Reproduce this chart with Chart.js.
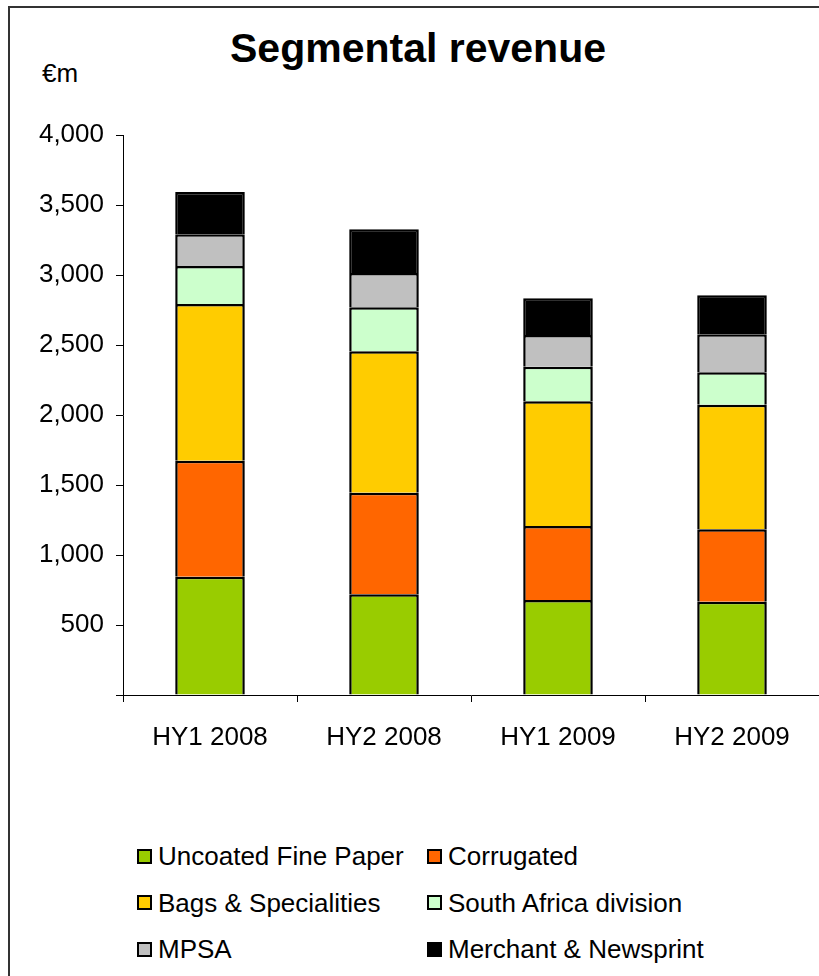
<!DOCTYPE html>
<html lang="en">
<head>
    <meta charset="UTF-8">
    <title>Segmental revenue</title>
    <script src="https://cdn.jsdelivr.net/npm/chart.js"></script>
    <style>
        body {
            margin: 0;
            background: #ffffff;
            font-family: "Liberation Sans", Arial, sans-serif;
        }
        #frame {
            position: absolute;
            left: 8px;
            top: 6px;
            width: 830px;
            height: 990px;
            border-left: 2px solid #333333;
            border-top: 2px solid #333333;
        }
        #title {
            position: absolute;
            left: 168px;
            width: 500px;
            top: 28px;
            text-align: center;
            font-size: 41px;
            line-height: 41px;
            font-weight: bold;
            color: #000000;
        }
        #unit {
            position: absolute;
            left: 42px;
            top: 58px;
            font-size: 26px;
            line-height: 30px;
            color: #000000;
        }
        #chartBox {
            position: absolute;
            left: 0;
            top: 0;
            width: 819px;
            height: 790px;
        }
        /* legend in two columns under the plot */
        #legend {
            position: absolute;
            left: 137px;
            top: 841px;
            display: grid;
            grid-template-columns: 290px 300px;
            row-gap: 16.5px;
        }
        .legend-item {
            display: flex;
            align-items: center;
            font-size: 26px;
            line-height: 30px;
            color: #000000;
        }
        .legend-box {
            display: inline-block;
            width: 11px;
            height: 11px;
            border: 2px solid #000000;
            margin-right: 6px;
        }
    </style>
</head>
<body>

<div id="frame"></div>
<div id="title">Segmental revenue</div>
<div id="unit">€m</div>

<div id="chartBox">
    <canvas id="revenueChart"></canvas>
</div>
<div id="legend"></div>

<script>
    // Half-year periods
    const categories = ['HY1 2008', 'HY2 2008', 'HY1 2009', 'HY2 2009'];

    // Revenue by segment, €m
    const uncoatedFinePaper = [845, 719, 679, 666];
    const corrugated = [829, 726, 528, 518];
    const bagsSpecialities = [1119, 1010, 891, 890];
    const southAfricaDivision = [271, 314, 247, 231];
    const mpsa = [227, 245, 226, 271];
    const merchantNewsprint = [302, 312, 263, 279];

    // Y axis range
    const yMin = 0;
    const yMax = 4000;
    const yStep = 500;

    const fontFamily = '"Liberation Sans", Arial, sans-serif';

    function segment(label, data, color) {
        return {
            label: label,
            data: data,
            backgroundColor: color,
            borderColor: '#000000',
            borderWidth: 2.5,
            barPercentage: 0.4,
            categoryPercentage: 1.0
        };
    }

    const ctx = document.getElementById('revenueChart').getContext('2d');
    const revenueChart = new Chart(ctx, {
        type: 'bar',
        data: {
            labels: categories,
            datasets: [
                segment('Uncoated Fine Paper', uncoatedFinePaper, '#99cc00'),
                segment('Corrugated', corrugated, '#ff6600'),
                segment('Bags & Specialities', bagsSpecialities, '#ffcc00'),
                segment('South Africa division', southAfricaDivision, '#ccffcc'),
                segment('MPSA', mpsa, '#c0c0c0'),
                segment('Merchant & Newsprint', merchantNewsprint, '#000000')
            ]
        },
        options: {
            responsive: true,
            maintainAspectRatio: false,
            animation: false,
            layout: {
                padding: { top: 135, left: 0, right: 0, bottom: 0 }
            },
            plugins: {
                legend: { display: false },
                tooltip: { enabled: false }
            },
            scales: {
                x: {
                    stacked: true,
                    offset: true,
                    grid: {
                        offset: true,
                        drawOnChartArea: false,
                        drawTicks: true,
                        tickLength: 7,
                        color: '#000000'
                    },
                    border: { color: '#000000', width: 1 },
                    ticks: {
                        color: '#000000',
                        padding: 20,
                        font: { family: fontFamily, size: 26 }
                    },
                    afterFit: function (scale) {
                        scale.height = 95;
                    }
                },
                y: {
                    stacked: true,
                    min: yMin,
                    max: yMax,
                    grid: {
                        drawOnChartArea: false,
                        drawTicks: true,
                        tickLength: 7,
                        color: '#000000'
                    },
                    border: { color: '#000000', width: 1 },
                    ticks: {
                        stepSize: yStep,
                        color: '#000000',
                        padding: 12,
                        font: { family: fontFamily, size: 26 },
                        callback: function (value) {
                            if (value === 0) return '';
                            return value.toLocaleString('en-US');
                        }
                    },
                    afterFit: function (scale) {
                        scale.width = 123;
                    }
                }
            }
        }
    });

    // Build the legend from the chart's datasets
    const legendBox = document.getElementById('legend');
    revenueChart.data.datasets.forEach(function (ds) {
        const item = document.createElement('div');
        item.className = 'legend-item';
        const swatch = document.createElement('span');
        swatch.className = 'legend-box';
        swatch.style.backgroundColor = ds.backgroundColor;
        item.appendChild(swatch);
        item.appendChild(document.createTextNode(ds.label));
        legendBox.appendChild(item);
    });
</script>

</body>
</html>
